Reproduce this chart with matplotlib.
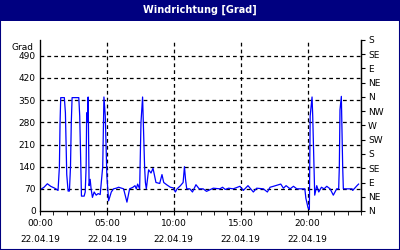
import matplotlib
matplotlib.use("Agg")
import matplotlib.pyplot as plt
from matplotlib.patches import Rectangle

title = "Windrichtung [Grad]"
y_unit = "Grad"
hours = [0.05, 0.3, 0.55, 0.8, 1.1, 1.35, 1.45, 1.5, 1.55, 1.6, 1.82, 1.9, 2.0, 2.1, 2.2, 2.28, 2.34, 2.4,
         2.9, 2.97, 3.05, 3.1, 3.3, 3.38, 3.45, 3.49, 3.53, 3.6, 3.67, 3.75, 3.82, 3.92, 4.05, 4.2, 4.35,
         4.5, 4.69, 4.78, 4.88, 5.0, 5.13, 5.33, 5.5, 5.7, 5.88, 6.1, 6.25, 6.4, 6.5, 6.7, 6.95, 7.1, 7.2,
         7.3, 7.45, 7.55, 7.67, 7.72, 7.82, 7.88, 7.95, 8.12, 8.3, 8.45, 8.55, 8.67, 8.95, 9.12, 9.25, 9.5,
         9.75, 9.97, 10.12, 10.25, 10.5, 10.7, 10.8, 10.88, 10.97, 11.2, 11.4, 11.66, 11.9, 12.2, 12.45,
         12.95, 13.45, 13.65, 13.85, 14.1, 14.45, 14.95, 15.2, 15.55, 15.75, 15.95, 16.2, 16.7, 17.0, 17.2,
         17.45, 18.0, 18.2, 18.4, 18.7, 18.95, 19.2, 19.8, 19.88, 20.04, 20.14, 20.2, 20.34, 20.39, 20.49,
         20.54, 20.69, 20.84, 21.04, 21.24, 21.44, 21.69, 21.93, 22.18, 22.33, 22.38, 22.43, 22.53, 22.63,
         22.68, 22.93, 23.33, 23.38, 23.7, 23.82]
values = [68, 75, 86, 78, 72, 65, 140, 280, 358, 358, 358, 310, 115, 63, 63, 140, 280, 358,
          358, 300, 140, 47, 47, 60, 140, 310, 280, 360, 80, 100, 70, 43, 60, 50, 55,
          52, 140, 360, 300, 110, 32, 60, 70, 72, 75, 72, 70, 45, 28, 70, 75, 80, 70,
          85, 70, 280, 360, 290, 140, 90, 70, 130, 120, 135, 115, 90, 87, 115, 90, 82,
          75, 73, 60, 70, 80, 90, 140, 100, 70, 70, 60, 83, 70, 70, 62,
          72, 70, 75, 68, 72, 70, 78, 65, 80, 70, 60, 72, 70, 60, 75,
          78, 85, 72, 80, 70, 78, 70, 70, 40, 10, 5, 300, 360, 300, 140,
          50, 80, 60, 75, 70, 78, 70, 50, 70, 70, 140, 320, 362, 140,
          70, 70, 70, 65, 80, 85]
left_ticks = [0, 70, 140, 210, 280, 350, 420, 490]
right_ticks = [0, 45, 90, 135, 180, 225, 270, 315, 360, 405, 450, 495, 540]
right_labels = ["N", "NE", "E", "SE", "S", "SW", "W", "NW", "N", "NE", "E", "SE", "S"]
x_ticks = [0, 5, 10, 15, 20]
x_labels = ["00:00\n22.04.19", "05:00\n22.04.19", "10:00\n22.04.19", "15:00\n22.04.19", "20:00\n22.04.19"]

navy = "#000080"
plt.rcParams['font.family'] = ['DejaVu Sans']
fig = plt.figure(figsize=(4, 2.5), dpi=100)
fig.patch.set_facecolor("white")
fig.patches.append(Rectangle((0, 0.918), 1, 0.082, transform=fig.transFigure, facecolor=navy, edgecolor="none"))
fig.patches.append(Rectangle((0.0012, 0.002), 0.9976, 0.996, transform=fig.transFigure, facecolor="none",
                             edgecolor=navy, linewidth=1.5))
fig.text(0.5, 0.96, title, color="white", fontsize=7, fontweight="bold", ha="center", va="center")

ax = fig.add_axes([0.1, 0.156, 0.8025, 0.684])
ax.plot(hours, values, color="#0000ff", linewidth=0.9)
ax.set_xlim(0, 24)
ax.set_ylim(0, 540)
ax.set_yticks(left_ticks)
ax.set_yticklabels([str(v) for v in left_ticks], fontsize=6.5)
ax.tick_params(axis="y", length=0, pad=3)
ax.set_xticks(x_ticks)
ax.set_xticklabels(x_labels, fontsize=6.5, linespacing=2.0)
ax.set_xticks(range(0, 25), minor=True)
ax.tick_params(axis="x", which="both", length=3, direction="out", pad=3)
for v in left_ticks[1:]:
    ax.axhline(v, color="black", linestyle=(0, (3, 2.5)), linewidth=0.9, zorder=0)
for v in x_ticks[1:]:
    ax.axvline(v, color="black", linestyle=(0, (3, 2.5)), linewidth=0.9, zorder=0)
ax.spines["top"].set_visible(False)
for s in ["left", "bottom", "right"]:
    ax.spines[s].set_linewidth(0.9)
ax.text(-0.5, 515, y_unit, fontsize=6.5, ha="right", va="center")

ax2 = ax.twinx()
ax2.set_ylim(0, 540)
ax2.set_yticks(right_ticks)
ax2.set_yticklabels(right_labels, fontsize=6.5)
ax2.tick_params(axis="y", length=3, direction="out", pad=2)
ax2.spines["top"].set_visible(False)
ax2.spines["right"].set_linewidth(0.9)

fig.savefig("out.png", dpi=100)
